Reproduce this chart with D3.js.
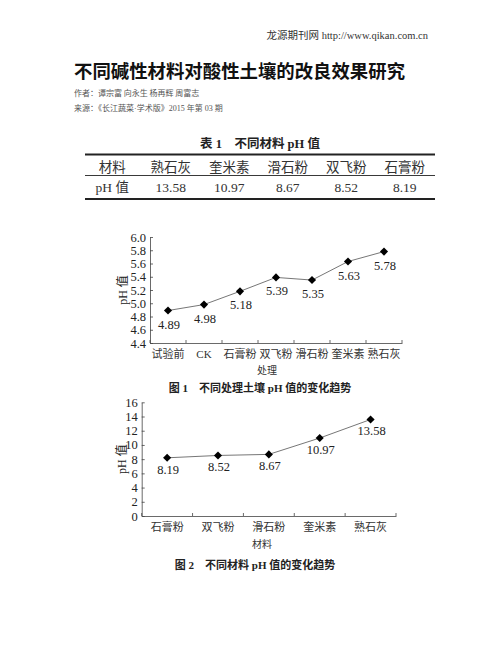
<!DOCTYPE html>
<html><head><meta charset="utf-8">
<script src="https://cdn.jsdelivr.net/npm/d3@7"></script>
<style>
html,body{margin:0;padding:0;background:#fff;}
svg{display:block;}
</style></head>
<body>
<script>
// ---- data ----
const headerText = "龙源期刊网 http://www.qikan.com.cn";
const titleText = "不同碱性材料对酸性土壤的改良效果研究";
const authorText = "作者：谭宗富 向永生 杨再辉 周富志";
const sourceText = "来源：《长江蔬菜·学术版》2015 年第 03 期";

const tableTitle = "表 1　不同材料 pH 值";
const tableHeader = ["材料", "熟石灰", "奎米素", "滑石粉", "双飞粉", "石膏粉"];
const tableRowLabel = "pH 值";
const tableValues = [13.58, 10.97, 8.67, 8.52, 8.19];

const treatments = ["试验前", "CK", "石膏粉", "双飞粉", "滑石粉", "奎米素", "熟石灰"];
const treatmentPH = [4.89, 4.98, 5.18, 5.39, 5.35, 5.63, 5.78];
const fig1Ticks = [4.4, 4.6, 4.8, 5.0, 5.2, 5.4, 5.6, 5.8, 6.0];
const fig1XLabel = "处理";
const fig1Caption = "图 1　不同处理土壤 pH 值的变化趋势";

const materials = ["石膏粉", "双飞粉", "滑石粉", "奎米素", "熟石灰"];
const materialPH = [8.19, 8.52, 8.67, 10.97, 13.58];
const fig2Ticks = [0, 2, 4, 6, 8, 10, 12, 14, 16];
const fig2XLabel = "材料";
const fig2Caption = "图 2　不同材料 pH 值的变化趋势";
const yLabel = "pH 值";

// ---- drawing ----
const W = 502, H = 649;
const serif = "'Liberation Serif','Times New Roman','Noto Sans CJK SC',serif";
const cjk = "'Noto Sans CJK SC','Liberation Serif',sans-serif";
const svg = d3.select("body").append("svg").attr("width", W).attr("height", H);

svg.append("text").attr("x", 428).attr("y", 39).attr("text-anchor", "end")
  .attr("font-family", serif).attr("font-size", 10.5).attr("fill", "#333")
  .text(headerText);
svg.append("text").attr("x", 74).attr("y", 78)
  .attr("font-family", cjk).attr("font-size", 18.4).attr("font-weight", "bold").attr("fill", "#111")
  .text(titleText);
svg.append("text").attr("x", 74).attr("y", 95.5)
  .attr("font-family", cjk).attr("font-size", 8).attr("fill", "#555").text(authorText);
svg.append("text").attr("x", 74).attr("y", 110.5)
  .attr("font-family", serif).attr("font-size", 8).attr("fill", "#555").text(sourceText);

// table
const tx = d3.scaleBand().domain(d3.range(tableHeader.length)).range([83, 434]);
svg.append("text").attr("x", 260).attr("y", 147.5).attr("text-anchor", "middle")
  .attr("font-family", serif).attr("font-size", 12.5).attr("font-weight", "bold").attr("fill", "#222")
  .text(tableTitle);
const lines = [{y: 154.5, w: 2}, {y: 175.5, w: 0.9}, {y: 199, w: 2}];
svg.selectAll("line.tbl").data(lines).join("line").attr("class", "tbl")
  .attr("x1", 85).attr("x2", 435).attr("y1", d => d.y).attr("y2", d => d.y)
  .attr("stroke", "#222").attr("stroke-width", d => d.w);
svg.selectAll("text.th").data(tableHeader).join("text").attr("class", "th")
  .attr("x", (d, i) => tx(i) + tx.bandwidth() / 2).attr("y", 171.5).attr("text-anchor", "middle")
  .attr("font-family", cjk).attr("font-size", 13.5).attr("fill", "#333").text(d => d);
const rowCells = [tableRowLabel].concat(tableValues.map(v => d3.format(".2f")(v)));
svg.selectAll("text.td").data(rowCells).join("text").attr("class", "td")
  .attr("x", (d, i) => tx(i) + tx.bandwidth() / 2).attr("y", 191.5).attr("text-anchor", "middle")
  .attr("font-family", serif).attr("font-size", 13.5).attr("fill", "#333").text(d => d);

function lineChart(opt) {
  const g = svg.append("g");
  const x = d3.scaleBand().domain(opt.cats).range([opt.x0, opt.x1]);
  const y = d3.scaleLinear().domain(opt.domain).range([opt.y0, opt.y1]);
  const ya = d3.axisLeft(y).tickValues(opt.ticks).tickFormat(opt.fmt)
    .tickSizeInner(-3).tickSizeOuter(0).tickPadding(4);
  const yg = g.append("g").attr("transform", `translate(${opt.x0},0)`).call(ya);
  yg.selectAll("text").attr("font-family", serif).attr("font-size", 12.5).attr("fill", "#222");
  yg.selectAll("line,path").attr("stroke", "#444").attr("stroke-width", 0.8);
  const xa = d3.axisBottom(x).tickSizeInner(0).tickSizeOuter(0).tickPadding(7);
  const xg = g.append("g").attr("transform", `translate(0,${opt.y0})`).call(xa);
  xg.selectAll("text").attr("font-family", serif).attr("font-size", 11).attr("fill", "#333");
  xg.selectAll("path").attr("stroke", "#444").attr("stroke-width", 0.8);
  // band boundary ticks pointing up
  const bounds = opt.cats.map(c => x(c) + x.bandwidth()).concat([opt.x0]);
  g.selectAll("line.bt").data(bounds).join("line")
    .attr("x1", d => d).attr("x2", d => d).attr("y1", opt.y0).attr("y2", opt.y0 - 3)
    .attr("stroke", "#444").attr("stroke-width", 0.8);
  const pts = opt.cats.map((c, i) => [x(c) + x.bandwidth() / 2, y(opt.vals[i])]);
  g.append("path").attr("d", d3.line()(pts)).attr("fill", "none")
    .attr("stroke", "#666").attr("stroke-width", 0.9);
  g.selectAll("path.mk").data(pts).join("path").attr("class", "mk")
    .attr("transform", d => `translate(${d[0]},${d[1]})`)
    .attr("d", d3.symbol(d3.symbolDiamond2, 42)).attr("fill", "#000");
  g.selectAll("text.dl").data(opt.vals).join("text").attr("class", "dl")
    .attr("x", (d, i) => pts[i][0] + 1).attr("y", (d, i) => pts[i][1] + opt.lblOff)
    .attr("text-anchor", "middle").attr("font-family", serif).attr("font-size", 12.5).attr("fill", "#222")
    .text(d => d3.format(".2f")(d));
  g.append("text").attr("transform", `translate(${opt.ylx},${(opt.y0 + opt.y1) / 2}) rotate(-90)`)
    .attr("text-anchor", "middle").attr("dy", "0.35em")
    .attr("font-family", serif).attr("font-size", 12).attr("fill", "#222").text(yLabel);
  g.append("text").attr("x", opt.xlx).attr("y", opt.xly).attr("text-anchor", "middle")
    .attr("font-family", cjk).attr("font-size", 10).attr("fill", "#333").text(opt.xLabel);
  g.append("text").attr("x", opt.capx).attr("y", opt.capy).attr("text-anchor", "middle")
    .attr("font-family", serif).attr("font-size", 11).attr("font-weight", "bold").attr("fill", "#222")
    .text(opt.caption);
}

lineChart({cats: treatments, vals: treatmentPH, domain: [4.4, 6.0], ticks: fig1Ticks,
  fmt: d3.format(".1f"), x0: 150, x1: 402, y0: 343, y1: 237, lblOff: 18,
  ylx: 123, xLabel: fig1XLabel, xlx: 267, xly: 374, caption: fig1Caption, capx: 260, capy: 392});

lineChart({cats: materials, vals: materialPH, domain: [0, 16], ticks: fig2Ticks,
  fmt: d3.format("d"), x0: 141.7, x1: 396, y0: 516, y1: 402.3, lblOff: 16,
  ylx: 121.7, xLabel: fig2XLabel, xlx: 262, xly: 548, caption: fig2Caption, capx: 255, capy: 569});
</script>
</body></html>
